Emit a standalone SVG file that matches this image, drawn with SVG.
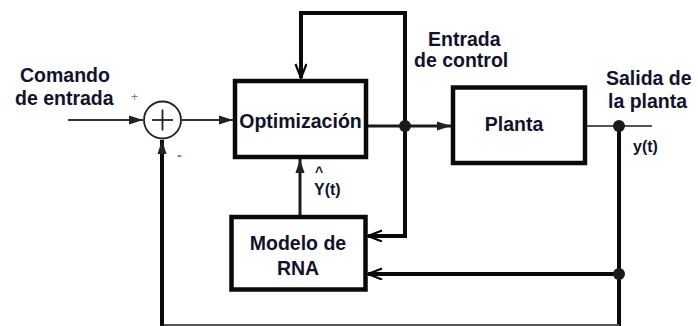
<svg xmlns="http://www.w3.org/2000/svg" width="698" height="326" viewBox="0 0 698 326">
<style>
  .box{fill:#fff;stroke:#0a0a0a;stroke-width:4.5}
  .lbl{font-family:"Liberation Sans",Arial,sans-serif;font-weight:bold;font-size:19.5px;fill:#12122a}
  .sm{font-family:"Liberation Sans",Arial,sans-serif;font-weight:bold;font-size:16px;fill:#12122a}
  .thick{fill:none;stroke:#0a0a0a;stroke-width:4}
  .mid{fill:none;stroke:#1a1a1a;stroke-width:3}
  .thin{fill:none;stroke:#333;stroke-width:2}
  .gray{fill:none;stroke:#555;stroke-width:1.8}
  .dot{fill:#1a1a1a}
</style>
<defs>
  <marker id="af" markerUnits="userSpaceOnUse" markerWidth="15" markerHeight="11" refX="14" refY="5.5" orient="auto">
    <path d="M0,1 L14,5.5 L0,10 z" fill="#222"/>
  </marker>
  <marker id="ach" markerUnits="userSpaceOnUse" markerWidth="18" markerHeight="14" refX="15" refY="6" orient="auto">
    <path d="M1,0.5 L15,6 L1,11.5" fill="none" stroke="#0a0a0a" stroke-width="2.2"/>
  </marker>
</defs>
<rect width="698" height="326" fill="#fff"/>

<g id="connectors">
  <line class="thin" x1="68" y1="120" x2="143" y2="120" marker-end="url(#af)"/>
  <line class="thin" x1="182" y1="120" x2="233" y2="120" marker-end="url(#af)"/>
  <path class="thick" d="M405,126 V13 H301 V78" marker-end="url(#ach)"/>
  <line class="mid" x1="368" y1="126" x2="405" y2="126"/>
  <line class="mid" x1="405" y1="126" x2="451" y2="126" marker-end="url(#af)"/>
  <path class="thick" d="M405,126 V236 H368" marker-end="url(#ach)"/>
  <line class="gray" x1="587" y1="126" x2="652" y2="126"/>
  <line class="thick" x1="619" y1="126" x2="619" y2="326"/>
  <path class="thick" d="M619,274 H368" marker-end="url(#ach)"/>
  <line class="mid" x1="300" y1="215" x2="300" y2="159" marker-end="url(#af)"/>
  <line class="gray" x1="162" y1="325" x2="619" y2="325"/>
  <line class="thick" x1="162" y1="326" x2="162" y2="140" marker-end="url(#af)"/>
  <circle class="dot" cx="405" cy="126" r="6"/>
  <circle class="dot" cx="619" cy="126" r="6"/>
  <circle class="dot" cx="619" cy="274" r="6"/>
</g>

<g id="sum">
  <circle cx="162.5" cy="120" r="18.5" fill="#fff" stroke="#222" stroke-width="1.8"/>
  <line x1="152" y1="120" x2="173" y2="120" stroke="#222" stroke-width="1.8"/>
  <line x1="162.5" y1="109.5" x2="162.5" y2="130.5" stroke="#222" stroke-width="1.8"/>
  <text x="131" y="101" font-family="Liberation Sans,Arial,sans-serif" font-size="12" fill="#9a6a9a">+</text>
  <text x="177" y="160" font-family="Liberation Sans,Arial,sans-serif" font-size="14" font-weight="bold" fill="#6a7a9a">-</text>
</g>

<g id="input-label">
  <text class="lbl" x="20" y="82">Comando</text>
  <text class="lbl" x="15" y="105">de entrada</text>
</g>

<g id="optimizacion">
  <rect class="box" x="235" y="81" width="131" height="76"/>
  <text class="lbl" x="300.5" y="128" text-anchor="middle">Optimización</text>
</g>

<g id="control-label">
  <text class="lbl" x="428" y="46">Entrada</text>
  <text class="lbl" x="414" y="67">de control</text>
</g>

<g id="planta">
  <rect class="box" x="453" y="87.5" width="132" height="75.5"/>
  <text class="lbl" x="514" y="131" text-anchor="middle">Planta</text>
</g>

<g id="output-label">
  <text class="lbl" x="606" y="85">Salida de</text>
  <text class="lbl" x="608" y="108">la planta</text>
  <text class="sm" x="633" y="152">y(t)</text>
</g>

<g id="yhat-label">
  <text x="315" y="177" font-family="Liberation Sans,Arial,sans-serif" font-weight="bold" font-size="14" fill="#12122a">^</text>
  <text class="sm" x="314" y="195">Y(t)</text>
</g>

<g id="modelo-rna">
  <rect class="box" x="231.5" y="217" width="134" height="72.5"/>
  <text class="lbl" x="298" y="250" text-anchor="middle">Modelo de</text>
  <text class="lbl" x="298" y="275" text-anchor="middle">RNA</text>
</g>
</svg>
